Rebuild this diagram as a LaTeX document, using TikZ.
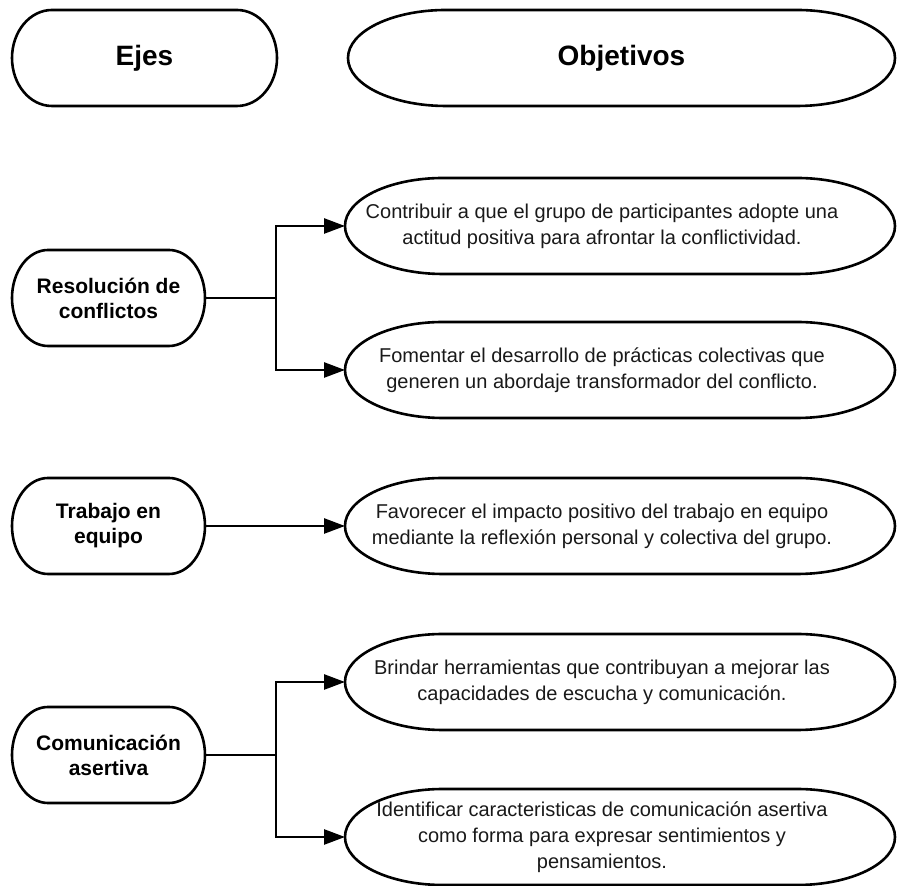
\documentclass[tikz,border=0pt]{standalone}
\usepackage{fontspec}
\setmainfont{Liberation Sans}
\usepackage{tikz}
\usetikzlibrary{arrows.meta}

% outline with flat top/bottom and elliptical ends: #1 node, #2 end radius, #3 extra on the right
\newcommand{\Contorno}[3]{%
  \draw[BorderStyle] ([xshift=#2pt]#1.north west) -- ([xshift=-#2pt+#3pt]#1.north east)
    arc[start angle=90,end angle=-90,x radius=#2pt,y radius=48pt]
    -- ([xshift=#2pt]#1.south west)
    arc[start angle=270,end angle=90,x radius=#2pt,y radius=48pt] -- cycle;}

\begin{document}
\begin{tikzpicture}[x=1pt,y=1pt]
		\useasboundingbox (0,0) rectangle (897,886);
		\tikzset{BorderStyle/.style = {draw=black,line width=2.6pt}}
		\tikzset{BoxStyle/.style = {minimum height=96pt,inner sep=0pt,outer sep=0pt,align=center}}
		\tikzset{HeadStyle/.style = {BoxStyle,font=\fontsize{28}{32}\selectfont\bfseries}}
		\tikzset{EjeStyle/.style = {BoxStyle,minimum width=193pt,font=\fontsize{21}{25}\selectfont\bfseries}}
		\tikzset{ObjetivoStyle/.style = {BoxStyle,minimum width=514pt,text=black!90,font=\fontsize{20}{26}\selectfont}}
		\tikzstyle{EdgeStyle}=[line width=2.6pt]
		\tikzstyle{ArrowStyle}=[EdgeStyle,-{Triangle[length=21pt,width=15pt]}]
		% headers
		\node[HeadStyle,minimum width=265pt] (ejes) at (144.5,828) {Ejes};
		\node[HeadStyle,minimum width=547pt] (objetivos) at (621.5,828) {Objetivos};
		\Contorno{ejes}{40}{0}
		\Contorno{objetivos}{98}{0}
		% ejes
		\node[EjeStyle] (resolucion) at (108.5,588) {Resoluci\'on de\\conflictos};
		\node[EjeStyle] (trabajo) at (108.5,360) {Trabajo en\\equipo};
		\node[EjeStyle] (comunicacion) at (108.5,131) {Comunicaci\'on\\asertiva};
		\Contorno{resolucion}{36}{0}
		\Contorno{trabajo}{36}{0}
		\Contorno{comunicacion}{36}{0}
		% objetivos
		\node[ObjetivoStyle] (obj1) at (602,660) {Contribuir a que el grupo de participantes adopte una\\actitud positiva para afrontar la conflictividad.};
		\node[ObjetivoStyle] (obj2) at (602,516) {Fomentar el desarrollo de pr\'acticas colectivas que\\generen un abordaje transformador del conflicto.};
		\node[ObjetivoStyle] (obj3) at (602,360) {Favorecer el impacto positivo del trabajo en equipo\\mediante la reflexi\'on personal y colectiva del grupo.};
		\node[ObjetivoStyle] (obj4) at (602,204) {Brindar herramientas que contribuyan a mejorar las\\capacidades de escucha y comunicaci\'on.};
		\node[ObjetivoStyle] (obj5) at (602,49) {Identificar caracteristicas de comunicaci\'on asertiva\\como forma para expresar sentimientos y\\pensamientos.};
		\foreach \n in {obj1,obj2,obj3,obj4,obj5}
			{\Contorno{\n}{98}{36}}
		% connectors
		\coordinate (jres) at (276,588);
		\coordinate (jcom) at (276,131);
		\draw[EdgeStyle] (resolucion) -- (jres);
		\draw[ArrowStyle] (jres) |- (obj1.west);
		\draw[ArrowStyle] (jres) |- (obj2.west);
		\draw[ArrowStyle] (trabajo) -- (obj3);
		\draw[EdgeStyle] (comunicacion) -- (jcom);
		\draw[ArrowStyle] (jcom) |- (obj4.west);
		\draw[ArrowStyle] (jcom) |- (obj5.west);
	\end{tikzpicture}
\end{document}
